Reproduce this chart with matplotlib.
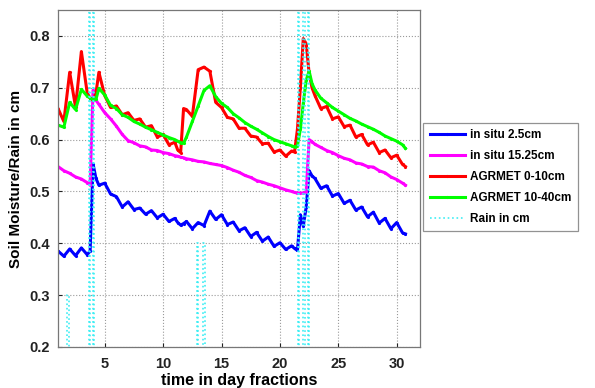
import numpy as np
import matplotlib
matplotlib.use("Agg")
import matplotlib.pyplot as plt

plt.rcParams['font.family'] = ['Liberation Sans', 'DejaVu Sans']
plt.rcParams['font.weight'] = 'bold'

# sampling times (days)
days = [1.0, 1.5, 2.0, 2.5, 3.0, 3.5, 3.75, 4.0, 4.25, 4.5, 5.0, 5.5, 6.0, 6.5,
        7.0, 7.5, 8.0, 8.5, 9.0, 9.5, 10.0, 10.5, 11.0, 11.25, 11.5, 11.75,
        12.0, 12.5, 13.0, 13.5, 14.0, 14.5, 15.0, 15.5, 16.0, 16.5, 17.0, 17.5,
        18.0, 18.5, 19.0, 19.5, 20.0, 20.5, 21.0, 21.25, 21.5, 21.75, 22.0,
        22.25, 22.5, 22.75, 23.0, 23.5, 24.0, 24.5, 25.0, 25.5, 26.0, 26.5,
        27.0, 27.5, 28.0, 28.5, 29.0, 29.5, 30.0, 30.5, 30.75]

insitu_2_5 = [0.385, 0.375, 0.389, 0.376, 0.391, 0.378, 0.385, 0.553, 0.525,
              0.512, 0.516, 0.495, 0.490, 0.470, 0.480, 0.465, 0.468, 0.456,
              0.463, 0.449, 0.456, 0.442, 0.448, 0.440, 0.435, 0.438, 0.442,
              0.428, 0.440, 0.434, 0.462, 0.446, 0.455, 0.436, 0.441, 0.424,
              0.430, 0.413, 0.421, 0.404, 0.412, 0.394, 0.401, 0.388, 0.395,
              0.390, 0.386, 0.455, 0.433, 0.470, 0.540, 0.530, 0.525, 0.506,
              0.511, 0.491, 0.496, 0.477, 0.483, 0.464, 0.470, 0.451, 0.460,
              0.439, 0.448, 0.428, 0.440, 0.420, 0.418]

insitu_15_25 = [0.548, 0.540, 0.535, 0.528, 0.524, 0.517, 0.513, 0.695, 0.676,
                0.668, 0.652, 0.640, 0.626, 0.610, 0.598, 0.594, 0.588, 0.586,
                0.580, 0.579, 0.575, 0.573, 0.569, 0.568, 0.566, 0.565, 0.563,
                0.561, 0.558, 0.557, 0.554, 0.552, 0.550, 0.546, 0.541, 0.537,
                0.531, 0.527, 0.521, 0.518, 0.514, 0.511, 0.507, 0.503, 0.500,
                0.498, 0.497, 0.497, 0.497, 0.499, 0.600, 0.596, 0.591, 0.585,
                0.579, 0.575, 0.569, 0.564, 0.561, 0.555, 0.553, 0.548, 0.547,
                0.540, 0.536, 0.528, 0.523, 0.516, 0.512]

agrmet_0_10 = [0.660, 0.635, 0.730, 0.663, 0.770, 0.690, 0.680, 0.676, 0.690,
               0.730, 0.685, 0.662, 0.665, 0.648, 0.652, 0.637, 0.640, 0.624,
               0.627, 0.605, 0.610, 0.590, 0.595, 0.580, 0.575, 0.660, 0.658,
               0.645, 0.735, 0.740, 0.732, 0.672, 0.662, 0.643, 0.640, 0.622,
               0.622, 0.607, 0.605, 0.592, 0.593, 0.576, 0.580, 0.568, 0.578,
               0.576, 0.620, 0.700, 0.795, 0.785, 0.728, 0.700, 0.685, 0.660,
               0.664, 0.640, 0.644, 0.625, 0.628, 0.605, 0.610, 0.590, 0.595,
               0.575, 0.580, 0.565, 0.570, 0.552, 0.548]

agrmet_10_40 = [0.628, 0.624, 0.672, 0.658, 0.697, 0.684, 0.680, 0.677, 0.678,
                0.699, 0.686, 0.666, 0.660, 0.648, 0.643, 0.635, 0.630, 0.624,
                0.619, 0.614, 0.609, 0.604, 0.600, 0.597, 0.594, 0.593, 0.605,
                0.635, 0.665, 0.695, 0.704, 0.683, 0.670, 0.662, 0.650, 0.642,
                0.633, 0.626, 0.620, 0.613, 0.606, 0.600, 0.596, 0.592, 0.588,
                0.586, 0.588, 0.620, 0.670, 0.715, 0.732, 0.708, 0.696, 0.680,
                0.671, 0.662, 0.655, 0.648, 0.641, 0.636, 0.630, 0.625, 0.620,
                0.614, 0.607, 0.602, 0.597, 0.590, 0.583]

# rain events: start day and amount (cm)
rain_day = [1.80, 3.65, 4.00, 12.88, 13.45, 21.55, 22.00, 22.40]
rain_cm = [0.30, 1.00, 1.00, 0.40, 0.40, 1.00, 1.00, 1.00]
rain_width = 0.12

labels = ['in situ 2.5cm', 'in situ 15.25cm', 'AGRMET 0-10cm',
          'AGRMET 10-40cm', 'Rain in cm']
colors = ['#0000ff', '#ff00ff', '#ff0000', '#00ff00', '#40eef4']

fig = plt.figure(figsize=(5.95, 3.88), dpi=100)
ax = fig.add_axes([0.0975, 0.106, 0.6085, 0.868])

series = [insitu_2_5, insitu_15_25, agrmet_0_10, agrmet_10_40]
for vals, lab, col in zip(series, labels[:4], colors[:4]):
    ax.plot(days, vals, '.-', color=col, lw=2.2, ms=2.5, label=lab)

# rain drawn as a step series dropping back to zero between events
rt, rv = [], []
for d, a in zip(rain_day, rain_cm):
    rt += [d, d, d + rain_width, d + rain_width]
    rv += [0.0, a, a, 0.0]
ax.plot(rt, rv, ':', color=colors[4], lw=1.2, label=labels[4])

ax.set_xlim(1, 32)
ax.set_ylim(0.2, 0.85)
ax.set_xticks([5, 10, 15, 20, 25, 30])
ax.set_yticks([0.2, 0.3, 0.4, 0.5, 0.6, 0.7, 0.8])
ax.set_yticklabels(['0.2', '0.3', '0.4', '0.5', '0.6', '0.7', '0.8'])
ax.grid(True, linestyle=':', color='#9a9a9a', lw=0.8)
ax.tick_params(direction='in', length=3, labelsize=10.5, colors='#222222',
               width=0.8)
ax.tick_params(axis='x', pad=7)
ax.tick_params(axis='y', pad=6)
for s in ax.spines.values():
    s.set_color('#777777')
    s.set_linewidth(0.9)

ax.set_xlabel('time in day fractions', fontsize=11.5, fontweight='bold',
              labelpad=2)
ax.set_ylabel('Soil Moisture/Rain in cm', fontsize=11, fontweight='bold',
              labelpad=4)

leg = fig.legend(loc='upper left', bbox_to_anchor=(0.711, 0.683),
                 fontsize=8.5, frameon=True, fancybox=False, edgecolor='#777777',
                 handlelength=3.0, handletextpad=0.4, labelspacing=0.75,
                 borderpad=0.55, borderaxespad=0)
leg.get_frame().set_linewidth(0.9)
for t in leg.get_texts():
    t.set_fontweight('bold')

fig.savefig('out.png', dpi=100)
